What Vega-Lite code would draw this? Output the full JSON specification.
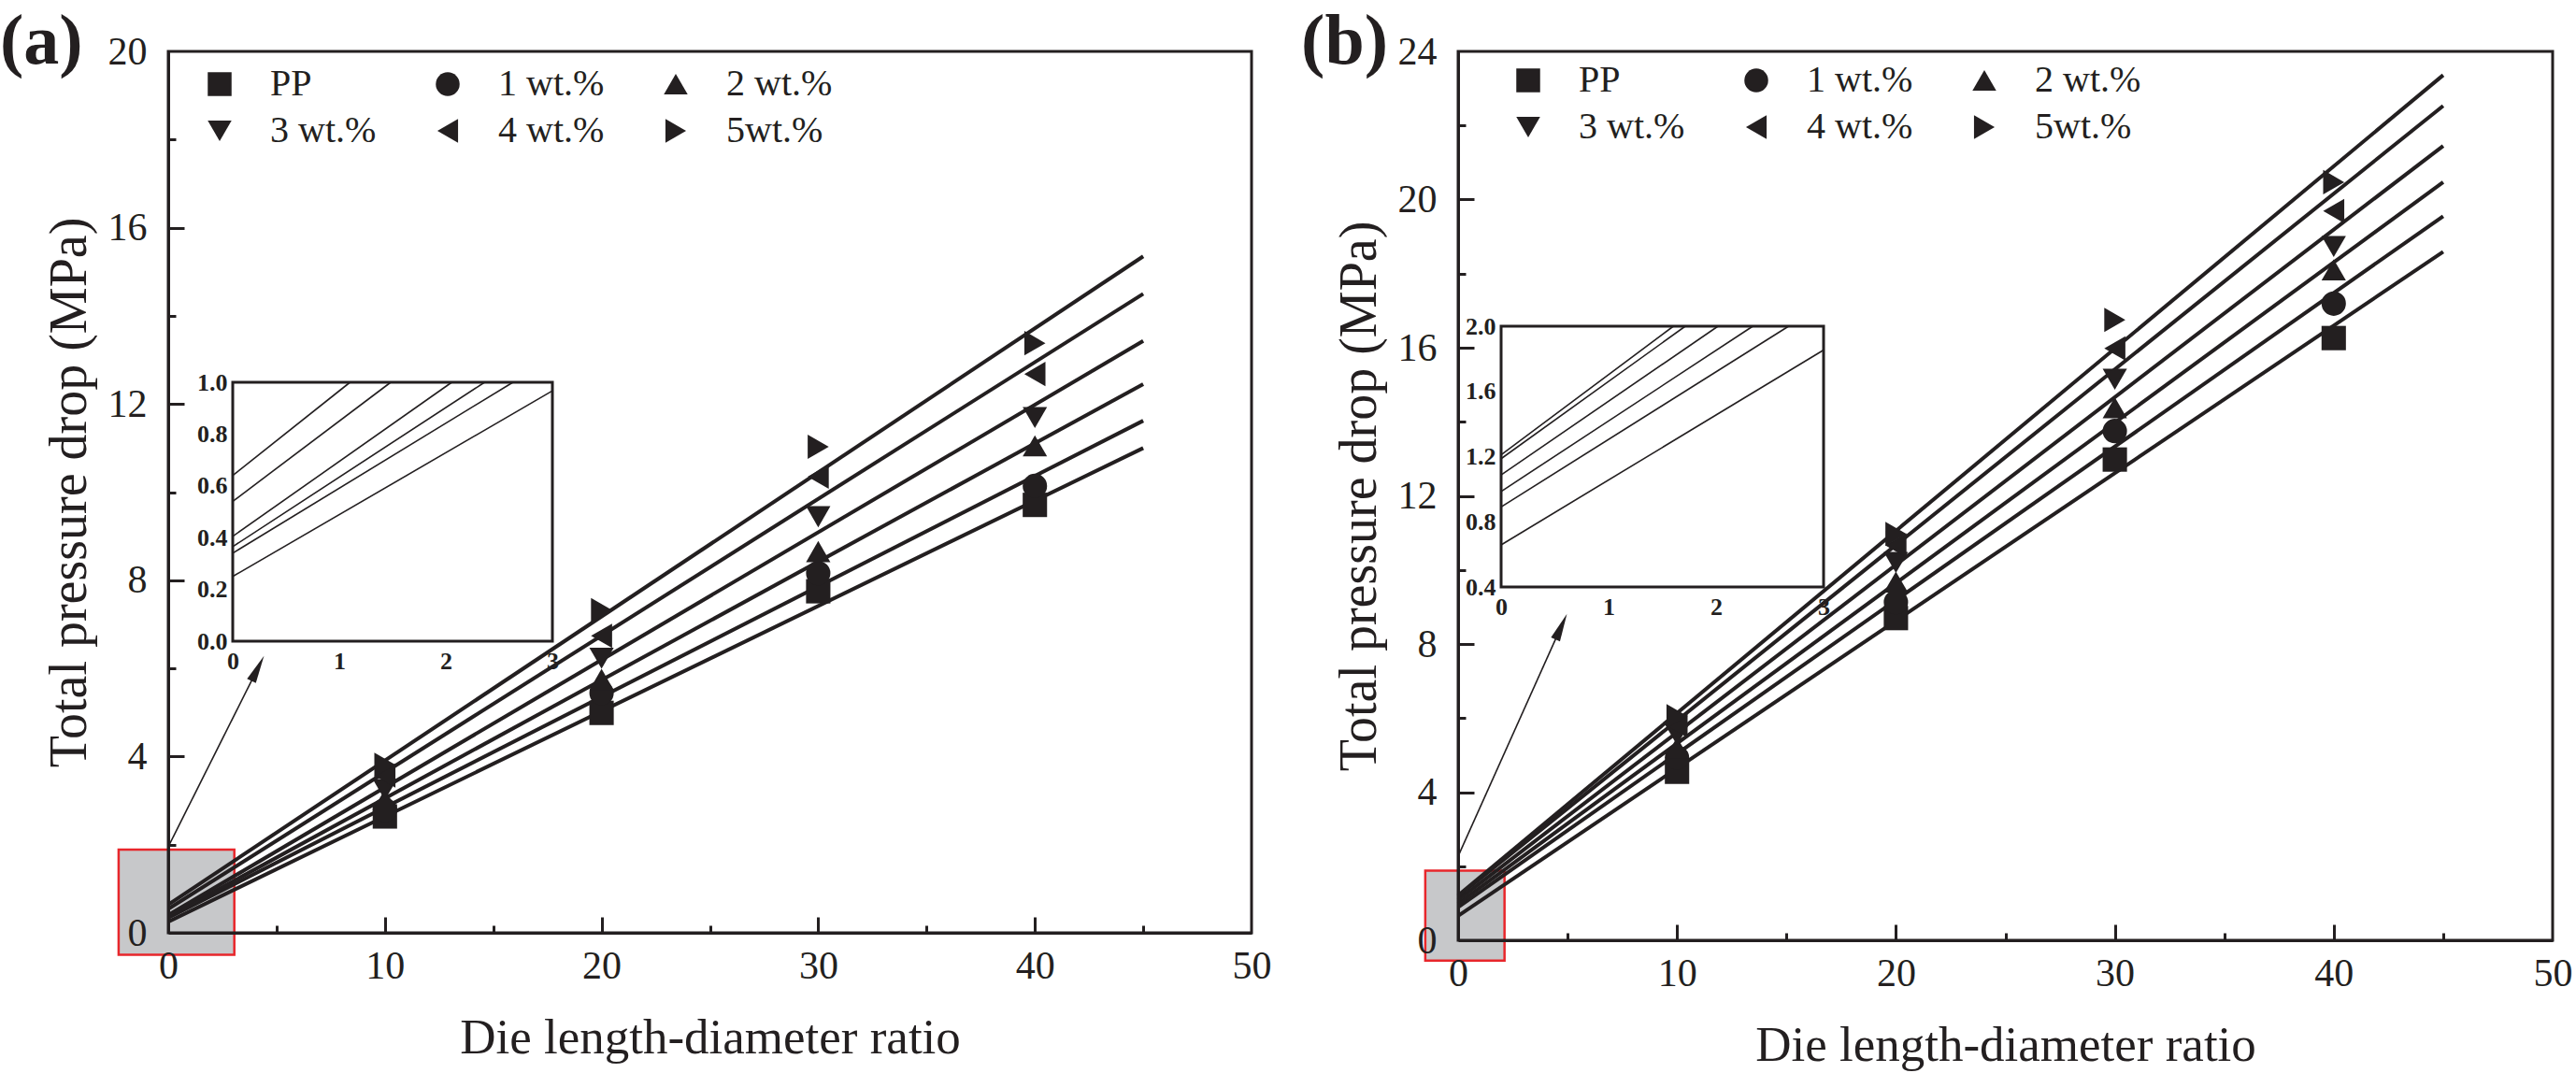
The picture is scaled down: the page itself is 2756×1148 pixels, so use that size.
{
"$schema":"https://vega.github.io/schema/vega-lite/v6.json",
"width":2756,"height":1148,"autosize":{"type":"none"},"padding":0,"background":"white",
"config":{"view":{"stroke":null},
 "axis":{"grid":false,"labelFont":"Liberation Serif","titleFont":"Liberation Serif","labelColor":"#231f20","titleColor":"#231f20","domainColor":"#231f20","tickColor":"#231f20","domainWidth":3,"tickWidth":3,"titleFontWeight":"normal","labelFontSize":42,"titleFontSize":56,"labelFlush":false,"labelOverlap":false}},
"datasets":{
 "linesA":[
  {"s":"PP","x":0,"y":0.25},{"s":"PP","x":45,"y":11.0},
  {"s":"1 wt.%","x":0,"y":0.34},{"s":"1 wt.%","x":45,"y":11.62},
  {"s":"2 wt.%","x":0,"y":0.365},{"s":"2 wt.%","x":45,"y":12.45},
  {"s":"3 wt.%","x":0,"y":0.405},{"s":"3 wt.%","x":45,"y":13.43},
  {"s":"4 wt.%","x":0,"y":0.54},{"s":"4 wt.%","x":45,"y":14.5},
  {"s":"5wt.%","x":0,"y":0.64},{"s":"5wt.%","x":45,"y":15.35}],
 "insetA":[
  {"s":"PP","x":0,"y":0.25},{"s":"PP","x":3,"y":0.967},
  {"s":"1 wt.%","x":0,"y":0.34},{"s":"1 wt.%","x":2.63,"y":1},
  {"s":"2 wt.%","x":0,"y":0.365},{"s":"2 wt.%","x":2.364,"y":1},
  {"s":"3 wt.%","x":0,"y":0.405},{"s":"3 wt.%","x":2.056,"y":1},
  {"s":"4 wt.%","x":0,"y":0.54},{"s":"4 wt.%","x":1.483,"y":1},
  {"s":"5wt.%","x":0,"y":0.64},{"s":"5wt.%","x":1.101,"y":1}],
 "ptsA":[
  {"s":"PP","x":10,"y":2.64},{"s":"1 wt.%","x":10,"y":2.79},{"s":"2 wt.%","x":10,"y":3.02},{"s":"3 wt.%","x":10,"y":3.25},{"s":"4 wt.%","x":10,"y":3.57},{"s":"5wt.%","x":10,"y":3.81},
  {"s":"PP","x":20,"y":4.99},{"s":"1 wt.%","x":20,"y":5.44},{"s":"2 wt.%","x":20,"y":5.75},{"s":"3 wt.%","x":20,"y":6.23},{"s":"4 wt.%","x":20,"y":6.74},{"s":"5wt.%","x":20,"y":7.32},
  {"s":"PP","x":30,"y":7.75},{"s":"1 wt.%","x":30,"y":8.16},{"s":"2 wt.%","x":30,"y":8.65},{"s":"3 wt.%","x":30,"y":9.44},{"s":"4 wt.%","x":30,"y":10.35},{"s":"5wt.%","x":30,"y":11.03},
  {"s":"PP","x":40,"y":9.71},{"s":"1 wt.%","x":40,"y":10.14},{"s":"2 wt.%","x":40,"y":11.05},{"s":"3 wt.%","x":40,"y":11.69},{"s":"4 wt.%","x":40,"y":12.68},{"s":"5wt.%","x":40,"y":13.38}],
 "linesB":[
  {"s":"PP","x":0,"y":0.658},{"s":"PP","x":45,"y":18.59},
  {"s":"1 wt.%","x":0,"y":0.891},{"s":"1 wt.%","x":45,"y":19.55},
  {"s":"2 wt.%","x":0,"y":0.986},{"s":"2 wt.%","x":45,"y":20.47},
  {"s":"3 wt.%","x":0,"y":1.087},{"s":"3 wt.%","x":45,"y":21.45},
  {"s":"4 wt.%","x":0,"y":1.187},{"s":"4 wt.%","x":45,"y":22.53},
  {"s":"5wt.%","x":0,"y":1.211},{"s":"5wt.%","x":45,"y":23.36}],
 "insetB":[
  {"s":"PP","x":0,"y":0.658},{"s":"PP","x":3,"y":1.854},
  {"s":"1 wt.%","x":0,"y":0.891},{"s":"1 wt.%","x":2.675,"y":2},
  {"s":"2 wt.%","x":0,"y":0.986},{"s":"2 wt.%","x":2.342,"y":2},
  {"s":"3 wt.%","x":0,"y":1.087},{"s":"3 wt.%","x":2.018,"y":2},
  {"s":"4 wt.%","x":0,"y":1.187},{"s":"4 wt.%","x":1.714,"y":2},
  {"s":"5wt.%","x":0,"y":1.211},{"s":"5wt.%","x":1.603,"y":2}],
 "ptsB":[
  {"s":"PP","x":10,"y":4.55},{"s":"1 wt.%","x":10,"y":4.93},{"s":"2 wt.%","x":10,"y":5.2},{"s":"3 wt.%","x":10,"y":5.55},{"s":"4 wt.%","x":10,"y":5.8},{"s":"5wt.%","x":10,"y":6.05},
  {"s":"PP","x":20,"y":8.7},{"s":"1 wt.%","x":20,"y":9.13},{"s":"2 wt.%","x":20,"y":9.67},{"s":"3 wt.%","x":20,"y":10.2},{"s":"4 wt.%","x":20,"y":10.66},{"s":"5wt.%","x":20,"y":10.97},
  {"s":"PP","x":30,"y":12.98},{"s":"1 wt.%","x":30,"y":13.75},{"s":"2 wt.%","x":30,"y":14.38},{"s":"3 wt.%","x":30,"y":15.15},{"s":"4 wt.%","x":30,"y":15.98},{"s":"5wt.%","x":30,"y":16.75},
  {"s":"PP","x":40,"y":16.26},{"s":"1 wt.%","x":40,"y":17.19},{"s":"2 wt.%","x":40,"y":18.1},{"s":"3 wt.%","x":40,"y":18.73},{"s":"4 wt.%","x":40,"y":19.69},{"s":"5wt.%","x":40,"y":20.47}]
},
"layer":[
 {"layer":[
  {"data":{"values":[{}]},"mark":{"type":"rect","fill":"white","stroke":"#231f20","strokeWidth":3},
   "encoding":{
    "x":{"datum":0,"type":"quantitative","scale":{"domain":[0,3],"range":[249,591],"nice":false,"zero":false},"axis":{"orient":"bottom","offset":-462,"values":[0,1,2,3],"format":"d","ticks":false,"domain":false,"labelFontWeight":"bold","labelFontSize":26,"labelPadding":8,"title":null}},
    "x2":{"datum":3},
    "y":{"datum":0,"type":"quantitative","scale":{"domain":[0,1],"range":[686,409],"nice":false,"zero":false},"axis":{"orient":"left","offset":-249,"values":[0,0.2,0.4,0.6,0.8,1],"format":".1f","ticks":false,"domain":false,"labelFontWeight":"bold","labelFontSize":26,"labelPadding":6,"title":null}},
    "y2":{"datum":1}}},
  {"data":{"name":"insetA"},"mark":{"type":"line","color":"#231f20","strokeWidth":1.6},
   "encoding":{
    "x":{"field":"x","type":"quantitative","scale":{"domain":[0,3],"range":[249,591],"nice":false,"zero":false},"axis":{"orient":"bottom","offset":-462,"values":[0.5,1,1.5,2,2.5],"labels":false,"domain":false,"tickSize":-6,"tickWidth":2.5,"title":null}},
    "y":{"field":"y","type":"quantitative","scale":{"domain":[0,1],"range":[686,409],"nice":false,"zero":false},"axis":{"orient":"left","offset":-249,"values":[0.1,0.2,0.3,0.4,0.5,0.6,0.7,0.8,0.9],"labels":false,"domain":false,"tickSize":-5,"tickWidth":2.5,"title":null}},
    "detail":{"field":"s"}}}
 ],"resolve":{"axis":{"x":"independent","y":"independent"}}},
 {"layer":[
  {"data":{"values":[{}]},"mark":{"type":"rect","fill":"white","stroke":"#231f20","strokeWidth":3},
   "encoding":{
    "x":{"datum":0,"type":"quantitative","scale":{"domain":[0,3],"range":[1606,1951],"nice":false,"zero":false},"axis":{"orient":"bottom","offset":-520,"values":[0,1,2,3],"format":"d","ticks":false,"domain":false,"labelFontWeight":"bold","labelFontSize":26,"labelPadding":8,"title":null}},
    "x2":{"datum":3},
    "y":{"datum":0.4,"type":"quantitative","scale":{"domain":[0.4,2],"range":[628,349],"nice":false,"zero":false},"axis":{"orient":"left","offset":-1606,"values":[0.4,0.8,1.2,1.6,2.0],"format":".1f","ticks":false,"domain":false,"labelFontWeight":"bold","labelFontSize":26,"labelPadding":6,"title":null}},
    "y2":{"datum":2}}},
  {"data":{"name":"insetB"},"mark":{"type":"line","color":"#231f20","strokeWidth":1.6},
   "encoding":{
    "x":{"field":"x","type":"quantitative","scale":{"domain":[0,3],"range":[1606,1951],"nice":false,"zero":false},"axis":{"orient":"bottom","offset":-520,"values":[0.5,1,1.5,2,2.5],"labels":false,"domain":false,"tickSize":-6,"tickWidth":2.5,"title":null}},
    "y":{"field":"y","type":"quantitative","scale":{"domain":[0.4,2],"range":[628,349],"nice":false,"zero":false},"axis":{"orient":"left","offset":-1606,"values":[0.6,0.8,1.0,1.2,1.4,1.6,1.8],"labels":false,"domain":false,"tickSize":-5,"tickWidth":2.5,"title":null}},
    "detail":{"field":"s"}}}
 ],"resolve":{"axis":{"x":"independent","y":"independent"}}},
 {"layer":[
  {"data":{"values":[{}]},"mark":{"type":"rect","fill":"#c7c8ca","stroke":"#e8262b","strokeWidth":2.5},
   "encoding":{
    "x":{"datum":-2.29,"type":"quantitative","scale":{"domain":[0,50],"range":[180,1339],"nice":false,"zero":false},"axis":{"orient":"bottom","offset":-150,"values":[0,10,20,30,40,50],"ticks":false,"labelPadding":15,"title":"Die length-diameter ratio","titleFontSize":53,"titlePadding":30,"zindex":1}},
    "x2":{"datum":3.05},
    "y":{"datum":-0.5,"type":"quantitative","scale":{"domain":[0,20],"range":[998,55],"nice":false,"zero":false},"axis":{"orient":"left","offset":-180,"values":[0,4,8,12,16,20],"ticks":false,"labelPadding":23,"title":"Total pressure drop (MPa)","titleFontSize":56,"titlePadding":12,"zindex":1}},
    "y2":{"datum":1.89}}},
  {"data":{"name":"linesA"},"mark":{"type":"line","color":"#231f20","strokeWidth":4},
   "encoding":{
    "x":{"field":"x","type":"quantitative","scale":{"domain":[0,50],"range":[180,1339],"nice":false,"zero":false},"axis":{"orient":"bottom","offset":-150,"values":[10,20,30,40],"labels":false,"domain":false,"tickSize":-17,"title":null}},
    "y":{"field":"y","type":"quantitative","scale":{"domain":[0,20],"range":[998,55],"nice":false,"zero":false},"axis":{"orient":"left","offset":-180,"values":[4,8,12,16],"labels":false,"domain":false,"tickSize":-17,"title":null}},
    "detail":{"field":"s"}}},
  {"data":{"name":"ptsA"},"mark":{"type":"point","filled":true,"color":"#231f20","size":680,"opacity":1},
   "encoding":{
    "x":{"field":"x","type":"quantitative","scale":{"domain":[0,50],"range":[180,1339],"nice":false,"zero":false},"axis":{"orient":"bottom","offset":-150,"values":[5,15,25,35,45],"labels":false,"domain":false,"tickSize":-8,"title":null}},
    "y":{"field":"y","type":"quantitative","scale":{"domain":[0,20],"range":[998,55],"nice":false,"zero":false},"axis":{"orient":"left","offset":-180,"values":[2,6,10,14,18],"labels":false,"domain":false,"tickSize":-8,"title":null}},
    "shape":{"field":"s","type":"nominal","scale":{"domain":["PP","1 wt.%","2 wt.%","3 wt.%","4 wt.%","5wt.%"],"range":["square","circle","triangle-up","triangle-down","triangle-left","triangle-right"]},
     "legend":{"orient":"none","legendX":215,"legendY":70,"title":null,"columns":3,"direction":"horizontal","labelFont":"Liberation Serif","labelFontSize":40,"labelColor":"#231f20","symbolSize":650,"symbolFillColor":"#231f20","symbolStrokeWidth":0,"labelOffset":34,"columnPadding":56,"rowPadding":10,"gridAlign":"all","padding":0,"labelLimit":0}}}},
  {"data":{"values":[{}]},"mark":{"type":"rule","color":"#231f20","strokeWidth":1.6},
   "encoding":{
    "x":{"datum":0.04,"type":"quantitative","scale":{"domain":[0,50],"range":[180,1339],"nice":false,"zero":false},"axis":null},
    "x2":{"datum":4.13},
    "y":{"datum":1.99,"type":"quantitative","scale":{"domain":[0,20],"range":[998,55],"nice":false,"zero":false},"axis":null},
    "y2":{"datum":6.0}}},
  {"data":{"values":[{}]},"mark":{"type":"point","filled":true,"color":"#231f20","shape":"M0,-1L-0.35,1L0.35,1Z","size":900,"angle":26.5,"opacity":1},
   "encoding":{
    "x":{"datum":4.13,"type":"quantitative","scale":{"domain":[0,50],"range":[180,1339],"nice":false,"zero":false},"axis":null},
    "y":{"datum":6.0,"type":"quantitative","scale":{"domain":[0,20],"range":[998,55],"nice":false,"zero":false},"axis":null}}},
  {"data":{"values":[{}]},"mark":{"type":"rect","filled":false,"stroke":"#231f20","strokeWidth":3},
   "encoding":{
    "x":{"datum":0,"type":"quantitative","scale":{"domain":[0,50],"range":[180,1339],"nice":false,"zero":false},"axis":null},
    "x2":{"datum":50},
    "y":{"datum":0,"type":"quantitative","scale":{"domain":[0,20],"range":[998,55],"nice":false,"zero":false},"axis":null},
    "y2":{"datum":20}}},
  {"data":{"values":[{}]},"mark":{"type":"text","text":"(a)","font":"Liberation Serif","fontWeight":"bold","fontSize":76,"align":"left","baseline":"alphabetic","color":"#231f20"},
   "encoding":{
    "x":{"datum":-7.77,"type":"quantitative","scale":{"domain":[0,50],"range":[180,1339],"nice":false,"zero":false},"axis":null},
    "y":{"datum":19.72,"type":"quantitative","scale":{"domain":[0,20],"range":[998,55],"nice":false,"zero":false},"axis":null}}}
 ],"resolve":{"axis":{"x":"independent","y":"independent"}}},
 {"layer":[
  {"data":{"values":[{}]},"mark":{"type":"rect","fill":"#c7c8ca","stroke":"#e8262b","strokeWidth":2.5},
   "encoding":{
    "x":{"datum":-1.5,"type":"quantitative","scale":{"domain":[0,50],"range":[1560,2731],"nice":false,"zero":false},"axis":{"orient":"bottom","offset":-142,"values":[0,10,20,30,40,50],"ticks":false,"labelPadding":15,"title":"Die length-diameter ratio","titleFontSize":53,"titlePadding":30,"zindex":1}},
    "x2":{"datum":2.12},
    "y":{"datum":-0.55,"type":"quantitative","scale":{"domain":[0,24],"range":[1006,55],"nice":false,"zero":false},"axis":{"orient":"left","offset":-1560,"values":[0,4,8,12,16,20,24],"ticks":false,"labelPadding":23,"title":"Total pressure drop (MPa)","titleFontSize":56,"titlePadding":12,"zindex":1}},
    "y2":{"datum":1.88}}},
  {"data":{"name":"linesB"},"mark":{"type":"line","color":"#231f20","strokeWidth":4},
   "encoding":{
    "x":{"field":"x","type":"quantitative","scale":{"domain":[0,50],"range":[1560,2731],"nice":false,"zero":false},"axis":{"orient":"bottom","offset":-142,"values":[10,20,30,40],"labels":false,"domain":false,"tickSize":-17,"title":null}},
    "y":{"field":"y","type":"quantitative","scale":{"domain":[0,24],"range":[1006,55],"nice":false,"zero":false},"axis":{"orient":"left","offset":-1560,"values":[4,8,12,16,20],"labels":false,"domain":false,"tickSize":-17,"title":null}},
    "detail":{"field":"s"}}},
  {"data":{"name":"ptsB"},"mark":{"type":"point","filled":true,"color":"#231f20","size":680,"opacity":1},
   "encoding":{
    "x":{"field":"x","type":"quantitative","scale":{"domain":[0,50],"range":[1560,2731],"nice":false,"zero":false},"axis":{"orient":"bottom","offset":-142,"values":[5,15,25,35,45],"labels":false,"domain":false,"tickSize":-8,"title":null}},
    "y":{"field":"y","type":"quantitative","scale":{"domain":[0,24],"range":[1006,55],"nice":false,"zero":false},"axis":{"orient":"left","offset":-1560,"values":[2,6,10,14,18,22],"labels":false,"domain":false,"tickSize":-8,"title":null}},
    "shape":{"field":"s","type":"nominal","scale":{"domain":["PP","1 wt.%","2 wt.%","3 wt.%","4 wt.%","5wt.%"],"range":["square","circle","triangle-up","triangle-down","triangle-left","triangle-right"]},
     "legend":{"orient":"none","legendX":1615,"legendY":66,"title":null,"columns":3,"direction":"horizontal","labelFont":"Liberation Serif","labelFontSize":40,"labelColor":"#231f20","symbolSize":650,"symbolFillColor":"#231f20","symbolStrokeWidth":0,"labelOffset":34,"columnPadding":56,"rowPadding":10,"gridAlign":"all","padding":0,"labelLimit":0}}}},
  {"data":{"values":[{}]},"mark":{"type":"rule","color":"#231f20","strokeWidth":1.6},
   "encoding":{
    "x":{"datum":0.0,"type":"quantitative","scale":{"domain":[0,50],"range":[1560,2731],"nice":false,"zero":false},"axis":null},
    "x2":{"datum":4.71},
    "y":{"datum":2.27,"type":"quantitative","scale":{"domain":[0,24],"range":[1006,55],"nice":false,"zero":false},"axis":null},
    "y2":{"datum":8.47}}},
  {"data":{"values":[{}]},"mark":{"type":"point","filled":true,"color":"#231f20","shape":"M0,-1L-0.35,1L0.35,1Z","size":900,"angle":24.2,"opacity":1},
   "encoding":{
    "x":{"datum":4.71,"type":"quantitative","scale":{"domain":[0,50],"range":[1560,2731],"nice":false,"zero":false},"axis":null},
    "y":{"datum":8.47,"type":"quantitative","scale":{"domain":[0,24],"range":[1006,55],"nice":false,"zero":false},"axis":null}}},
  {"data":{"values":[{}]},"mark":{"type":"rect","filled":false,"stroke":"#231f20","strokeWidth":3},
   "encoding":{
    "x":{"datum":0,"type":"quantitative","scale":{"domain":[0,50],"range":[1560,2731],"nice":false,"zero":false},"axis":null},
    "x2":{"datum":50},
    "y":{"datum":0,"type":"quantitative","scale":{"domain":[0,24],"range":[1006,55],"nice":false,"zero":false},"axis":null},
    "y2":{"datum":24}}},
  {"data":{"values":[{}]},"mark":{"type":"text","text":"(b)","font":"Liberation Serif","fontWeight":"bold","fontSize":76,"align":"left","baseline":"alphabetic","color":"#231f20"},
   "encoding":{
    "x":{"datum":-7.17,"type":"quantitative","scale":{"domain":[0,50],"range":[1560,2731],"nice":false,"zero":false},"axis":null},
    "y":{"datum":23.67,"type":"quantitative","scale":{"domain":[0,24],"range":[1006,55],"nice":false,"zero":false},"axis":null}}}
 ],"resolve":{"axis":{"x":"independent","y":"independent"}}}
],
"resolve":{"scale":{"x":"independent","y":"independent","shape":"independent"},"axis":{"x":"independent","y":"independent"},"legend":{"shape":"independent"}}
}
